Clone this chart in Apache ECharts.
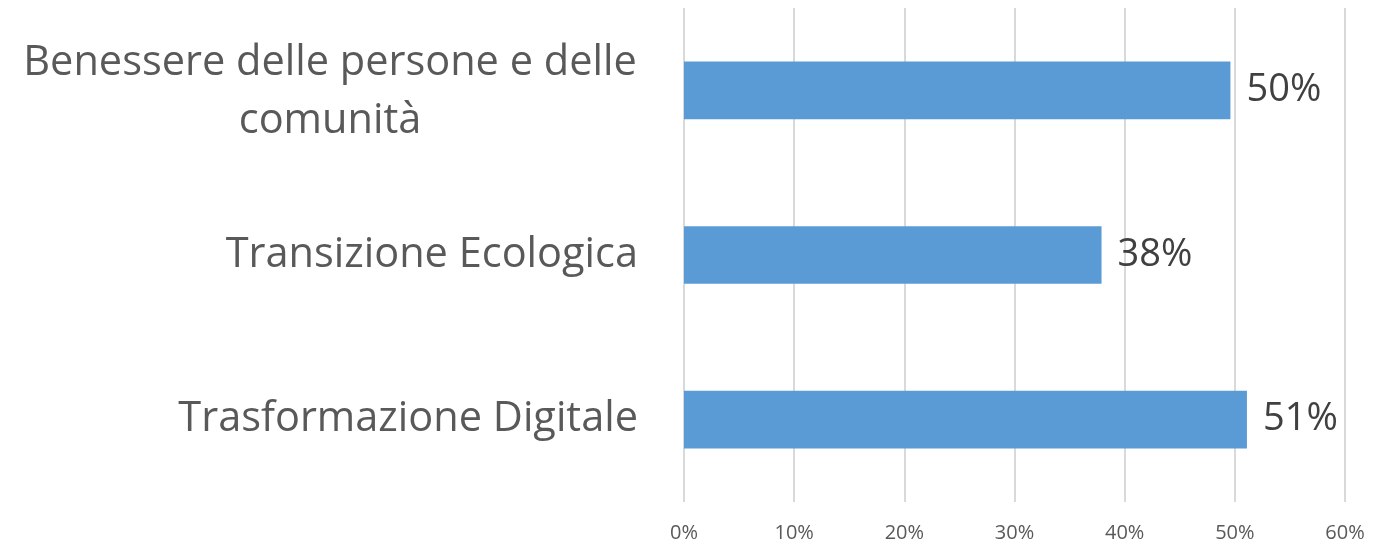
<!DOCTYPE html>
<html>
<head>
<meta charset="utf-8">
<script src="https://cdn.jsdelivr.net/npm/echarts@6/dist/echarts.min.js"></script>
<style>html,body{margin:0;padding:0;background:#fff}#c{width:1374px;height:545px}</style>
</head>
<body>
<div id="c"></div>
<script>
const categories = ["Trasformazione Digitale", "Transizione Ecologica", "Benessere delle persone e delle comunità"];
const values = [51.1, 37.9, 49.6];
const xTicks = [0, 10, 20, 30, 40, 50, 60];

const chart = echarts.init(document.getElementById('c'), null, {renderer: 'canvas'});
const FONT = '"Open Sans", sans-serif';
chart.setOption({
  animation: false,
  grid: {left: 684, right: 29, top: 8, bottom: 43, containLabel: false},
  xAxis: {
    type: 'value', min: xTicks[0], max: xTicks[xTicks.length - 1], interval: 10,
    axisLine: {show: false}, axisTick: {show: false},
    splitLine: {show: true, lineStyle: {color: '#d9d9d9', width: 2}},
    axisLabel: {formatter: v => v + '%', color: '#595959', fontSize: 20, fontFamily: FONT, margin: 21}
  },
  yAxis: {
    type: 'category', data: categories,
    axisLine: {show: false}, axisTick: {show: false},
    axisLabel: {
      color: '#595959', fontSize: 41.5, fontFamily: FONT, margin: 46,
      formatter: function (v) {
        if (v.indexOf('Benessere') === 0) {
          return '{c|Benessere delle persone e delle}\n{c|comunità}';
        }
        return v;
      },
      rich: {c: {align: 'center', width: 616, fontSize: 41.5, fontFamily: FONT, color: '#595959', lineHeight: 58, padding: [4, 0, 0, 0]}}
    }
  },
  series: [{
    type: 'bar', data: values, barWidth: '35%',
    itemStyle: {color: '#5B9BD5'},
    label: {show: true, position: 'right', distance: 16, formatter: p => Math.round(p.value) + '%',
      color: '#404040', fontSize: 38, fontFamily: FONT}
  }]
});
</script>
</body>
</html>
